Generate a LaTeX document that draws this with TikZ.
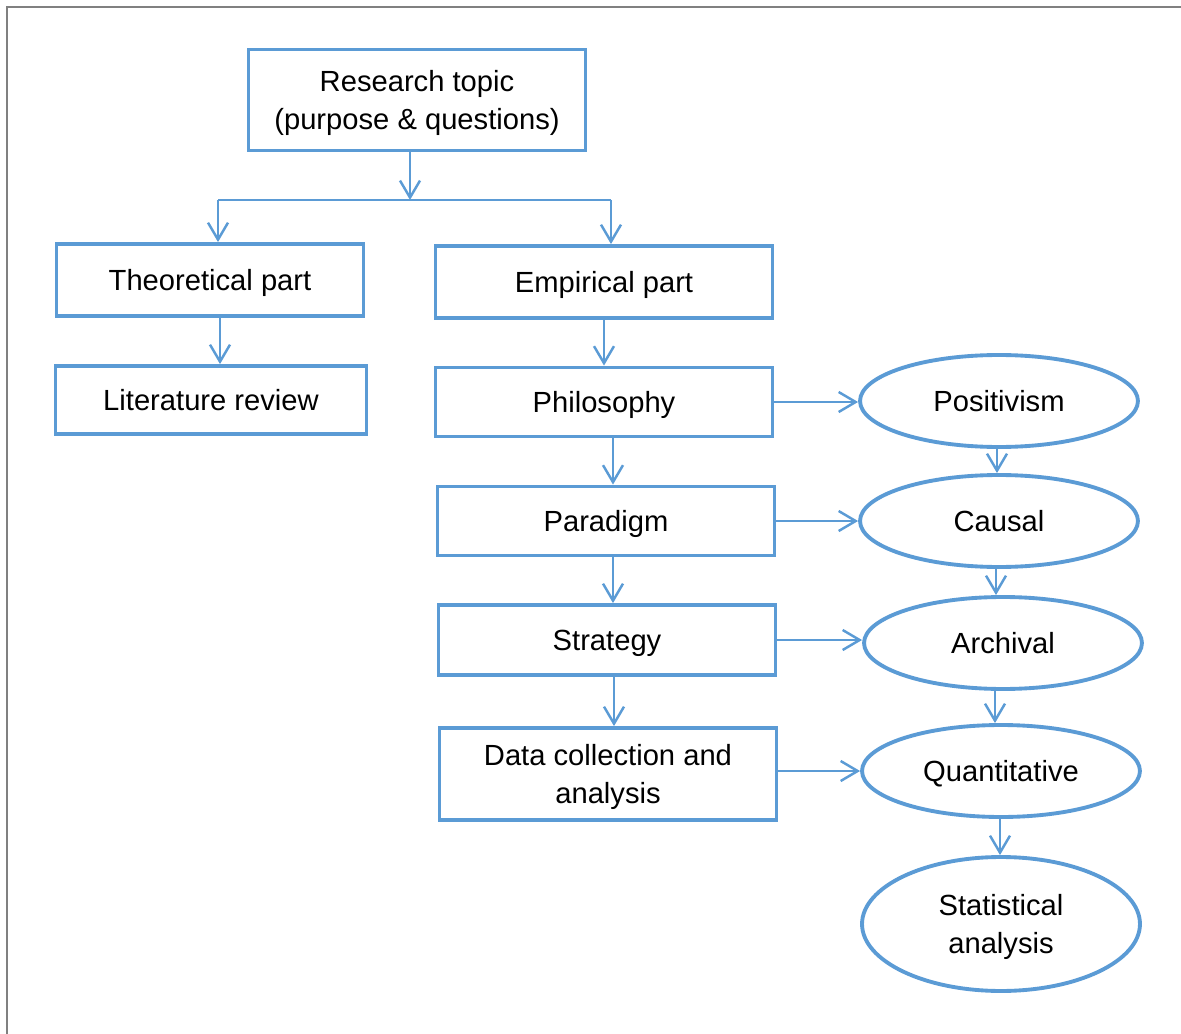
\documentclass[tikz,border=0pt]{standalone}
\usepackage{fontspec}
\setmainfont{Liberation Sans}
\usetikzlibrary{arrows.meta,shapes.geometric}
\definecolor{flowblue}{RGB}{91,155,213}
\definecolor{framegray}{RGB}{128,128,128}

\begin{document}
\begin{tikzpicture}[x=0.02cm,y=-0.02cm,
  box/.style={draw=flowblue,line width=2.2pt,align=center,inner sep=0pt,text depth=0pt,
    minimum width=6.74cm,minimum height=1.44cm,font=\fontsize{16.6}{21.6}\selectfont},
  oval/.style={ellipse,draw=flowblue,line width=2.2pt,align=center,inner sep=0pt,text depth=0pt,
    minimum width=5.56cm,minimum height=1.84cm,font=\fontsize{16.6}{21.6}\selectfont},
  link/.style={draw=flowblue,line width=1.4pt,-{Straight Barb[length=3.4mm,width=4mm]}}]
  \useasboundingbox (0,0) rectangle (1181,1034);

  % Page frame (only top and left edges show).
  \draw[framegray,line width=1.2pt] (7,1040) -- (7,7) -- (1190,7);

  % Top of the tree.
  \node[box,minimum width=6.74cm,minimum height=2.02cm] (topic) at (417,100)
    {Research topic\\(purpose \& questions)};
  \coordinate (split) at (410,200);
  \coordinate (splitL) at (218,200);
  \coordinate (splitR) at (611,200);

  % Theoretical branch.
  \node[box,minimum width=6.14cm,minimum height=1.44cm] (theory) at (210,280) {Theoretical part};
  \node[box,minimum width=6.22cm,minimum height=1.36cm] (review) at (211,400) {Literature review};

  % Empirical branch.
  \node[box,minimum height=1.44cm] (empiric) at (604,282) {Empirical part};
  \node[box,minimum height=1.38cm] (philo) at (604,402) {Philosophy};
  \node[box,minimum height=1.38cm] (paradigm) at (606,521) {Paradigm};
  \node[box,minimum height=1.40cm] (strategy) at (607,640) {Strategy};
  \node[box,minimum height=1.84cm] (datacol) at (608,774) {Data collection and\\analysis};

  % Choices made at each step.
  \node[oval] (positiv) at (999,401) {Positivism};
  \node[oval] (causal) at (999,521) {Causal};
  \node[oval] (archival) at (1003,643) {Archival};
  \node[oval] (quanti) at (1001,771) {Quantitative};
  \node[oval,minimum height=2.68cm] (statan) at (1001,924) {Statistical\\analysis};

  % Connectors.
  \draw[link] (topic.south -| split) -- (split);
  \draw[flowblue,line width=1.1pt] (splitL) -- (splitR);
  \draw[link] (splitL) -- (theory.north -| splitL);
  \draw[link] (splitR) -- (empiric.north -| splitR);
  \draw[link] (theory.south -| 220,0) -- (review.north -| 220,0);

  \draw[link] (empiric.south) -- (empiric.south |- philo.north);
  \draw[link] (philo.south -| 613,0) -- (paradigm.north -| 613,0);
  \draw[link] (paradigm.south -| 613,0) -- (strategy.north -| 613,0);
  \draw[link] (strategy.south -| 614,0) -- (datacol.north -| 614,0);

  \draw[link] (philo.east) -- (philo.east -| positiv.west);
  \draw[link] (paradigm.east) -- (paradigm.east -| causal.west);
  \draw[link] (strategy.east) -- (strategy.east -| archival.west);
  \draw[link] (datacol.east |- quanti) -- (quanti.west);

  \draw[link] (positiv.south -| 997,0) -- (causal.north -| 997,0);
  \draw[link] (causal.south -| 996,0) -- (archival.north -| 996,0);
  \draw[link] (archival.south -| 995,0) -- (quanti.north -| 995,0);
  \draw[link] (quanti.south -| 1000,0) -- (statan.north -| 1000,0);
\end{tikzpicture}
\end{document}
